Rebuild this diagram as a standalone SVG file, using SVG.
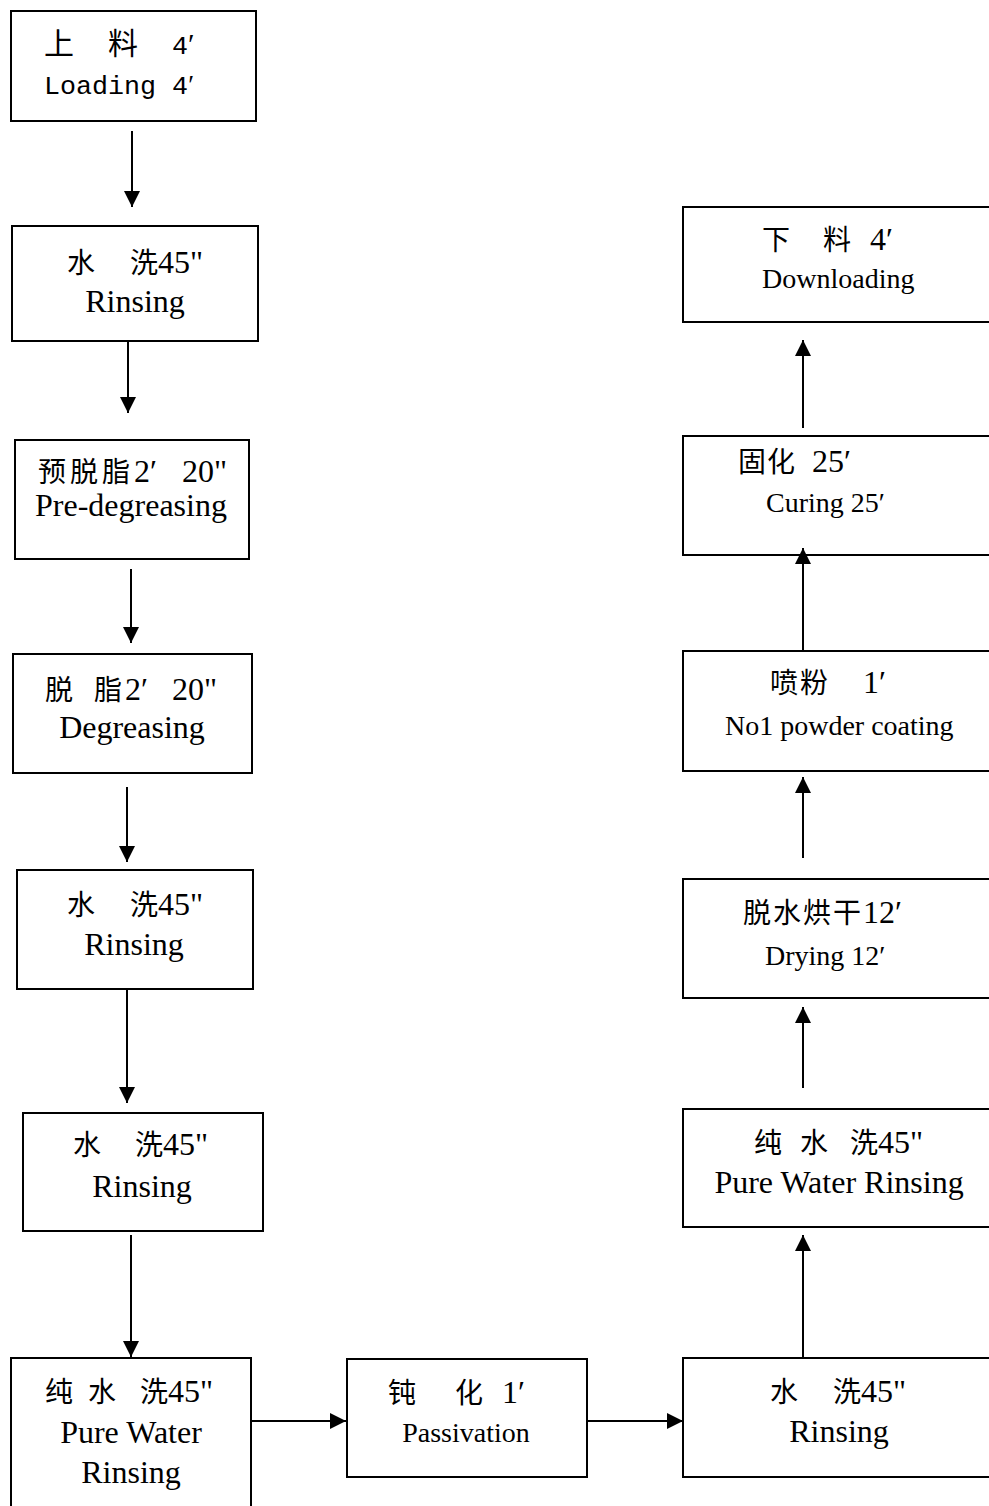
<svg xmlns="http://www.w3.org/2000/svg" width="989" height="1506" viewBox="0 0 989 1506">
<style>
.box{fill:#fff;stroke:#000;stroke-width:2}
.c{font-family:"Noto Sans CJK SC",sans-serif;font-size:28px;fill:#000}
.big{font-size:30px}
.l{font-family:"Liberation Serif","Noto Sans CJK SC",serif;font-size:32px}
.p{font-family:"Liberation Serif","Noto Sans CJK SC",serif}
.s{font-family:"Liberation Serif","Noto Sans CJK SC",serif;font-size:32px;fill:#000}
.m{font-family:"Liberation Serif","Noto Sans CJK SC",serif;font-size:28px;fill:#000}
.mono{font-family:"Liberation Mono","Noto Sans CJK SC",monospace;font-size:26.7px;fill:#000}
.mid{text-anchor:middle}
.cn{stroke:#000;stroke-width:2;fill:none;marker-end:url(#ah)}
</style>
<defs>
<marker id="ah" markerUnits="userSpaceOnUse" markerWidth="16" markerHeight="16" refX="16" refY="8" orient="auto">
<path d="M0,0 L16,8 L0,16 z" fill="#000"/>
</marker>
</defs>
<rect width="989" height="1506" fill="#fff"/>

<g id="n1"><rect class="box" x="11" y="11" width="245" height="110"/>
<text class="c big" x="44 76 108 140 172 188" y="54">上　料　<tspan class="mono">4</tspan><tspan class="p">′</tspan></text>
<text class="mono" x="44" y="94">Loading 4<tspan class="p">′</tspan></text></g>

<g id="n2"><rect class="box" x="12" y="226" width="246" height="115"/>
<text class="c" x="67 98 130" y="273">水　洗<tspan class="l">45"</tspan></text>
<text class="s mid" x="135" y="312">Rinsing</text></g>

<g id="n3"><rect class="box" x="15" y="440" width="234" height="119"/>
<text class="c" x="38 70 102 134 150 163 182" y="482">预脱脂<tspan class="l">2′ 20"</tspan></text>
<text class="s mid" x="131" y="516">Pre-degreasing</text></g>

<g id="n4"><rect class="box" x="13" y="654" width="239" height="119"/>
<text class="c" x="45 76 94 125 141 152 172" y="700">脱 脂<tspan class="l">2′ 20"</tspan></text>
<text class="s mid" x="132" y="738">Degreasing</text></g>

<g id="n5"><rect class="box" x="17" y="870" width="236" height="119"/>
<text class="c" x="67 98 130" y="915">水　洗<tspan class="l">45"</tspan></text>
<text class="s mid" x="134" y="955">Rinsing</text></g>

<g id="n6"><rect class="box" x="23" y="1113" width="240" height="118"/>
<text class="c" x="73 104 135" y="1155">水　洗<tspan class="l">45"</tspan></text>
<text class="s mid" x="142" y="1197">Rinsing</text></g>

<g id="n7"><rect class="box" x="11" y="1358" width="240" height="170"/>
<text class="c" x="45 76 88 119 140" y="1402">纯 水 洗<tspan class="l">45"</tspan></text>
<text class="s mid" x="131" y="1443">Pure Water</text>
<text class="s mid" x="131" y="1483">Rinsing</text></g>

<g id="n8"><rect class="box" x="347" y="1359" width="240" height="118"/>
<text class="c" x="388 420 455 490 502" y="1403">钝　化 <tspan class="l">1′</tspan></text>
<text class="m mid" x="466" y="1442">Passivation</text></g>

<g id="n9"><rect class="box" x="683" y="1358" width="320" height="119"/>
<text class="c" x="770 801 833" y="1402">水　洗<tspan class="l">45"</tspan></text>
<text class="s mid" x="839" y="1442">Rinsing</text></g>

<g id="n10"><rect class="box" x="683" y="1109" width="320" height="118"/>
<text class="c" x="754 785 800 831 850" y="1153">纯 水 洗<tspan class="l">45"</tspan></text>
<text class="s mid" x="839" y="1193">Pure Water Rinsing</text></g>

<g id="n11"><rect class="box" x="683" y="879" width="320" height="119"/>
<text class="c" x="743 773 803 833 863" y="923">脱水烘干<tspan class="l">12′</tspan></text>
<text class="m" x="765" y="965">Drying 12′</text></g>

<g id="n12"><rect class="box" x="683" y="651" width="320" height="120"/>
<text class="c" x="770 800 831 863" y="693">喷粉　<tspan class="l">1′</tspan></text>
<text class="m" x="725" y="735">No1 powder coating</text></g>

<g id="n13"><rect class="box" x="683" y="436" width="320" height="119"/>
<text class="c" x="738 767 796 812" y="472">固化 <tspan class="l">25′</tspan></text>
<text class="m" x="766" y="512">Curing 25′</text></g>

<g id="n14"><rect class="box" x="683" y="207" width="320" height="115"/>
<text class="c" x="762 792 823 857 870" y="250">下　料 <tspan class="l">4′</tspan></text>
<text class="m" x="762" y="288">Downloading</text></g>

<g id="connectors">
<line class="cn" x1="132" y1="131" x2="132" y2="207"/>
<line class="cn" x1="128" y1="341" x2="128" y2="413"/>
<line class="cn" x1="131" y1="569" x2="131" y2="643"/>
<line class="cn" x1="127" y1="787" x2="127" y2="862"/>
<line class="cn" x1="127" y1="989" x2="127" y2="1103"/>
<line class="cn" x1="131" y1="1235" x2="131" y2="1357"/>
<line class="cn" x1="251" y1="1421" x2="346" y2="1421"/>
<line class="cn" x1="587" y1="1421" x2="683" y2="1421"/>
<line class="cn" x1="803" y1="1358" x2="803" y2="1235"/>
<line class="cn" x1="803" y1="1088" x2="803" y2="1007"/>
<line class="cn" x1="803" y1="858" x2="803" y2="777"/>
<line class="cn" x1="803" y1="651" x2="803" y2="548"/>
<line class="cn" x1="803" y1="428" x2="803" y2="340"/>
</g>
</svg>
